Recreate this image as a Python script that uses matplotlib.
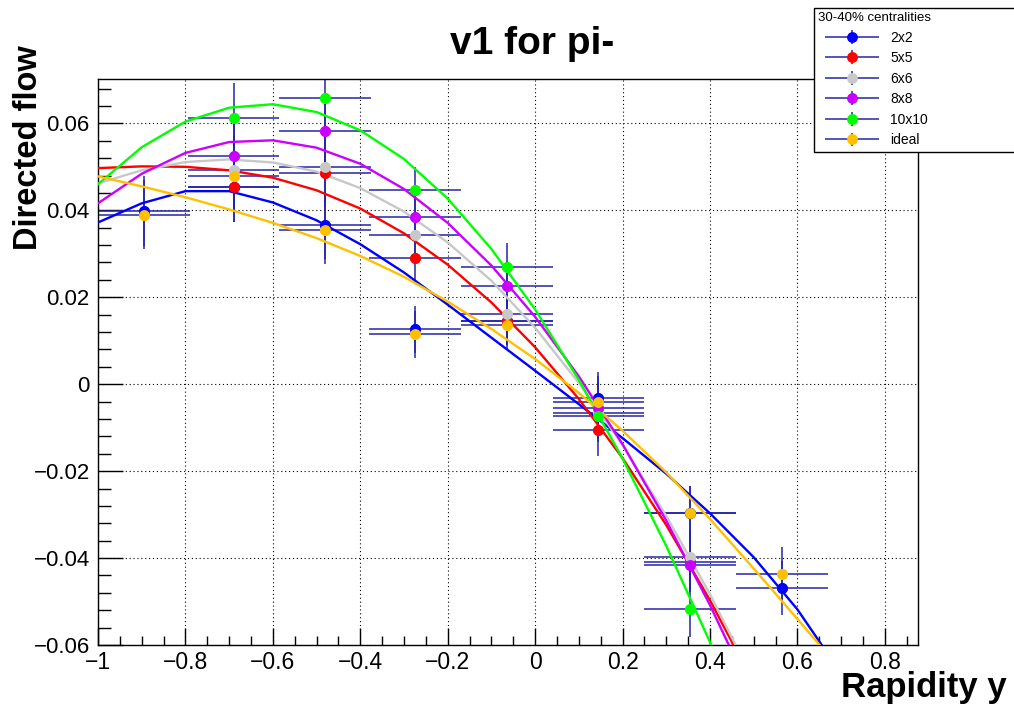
import numpy as np
import matplotlib.pyplot as plt
from matplotlib.legend_handler import HandlerErrorbar
from matplotlib.ticker import MultipleLocator, FixedLocator

plt.rcParams['font.family'] = ['Liberation Sans', 'DejaVu Sans']

nan = np.nan

# rapidity bins (centres and half widths)
rapidity = [-0.895, -0.69, -0.48, -0.275, -0.065, 0.145, 0.355, 0.565]
rapidity_err = [0.105, 0.105, 0.105, 0.105, 0.105, 0.105, 0.105, 0.105]
v1_err = [0.008, 0.008, 0.0077, 0.0054, 0.0055, 0.006, 0.0063, 0.0063]

# measured v1 per detector granularity
v1_2x2 = [0.0398, 0.0453, 0.0366, 0.0126, 0.0145, -0.0032, -0.0297, -0.0469]
v1_5x5 = [nan, 0.0453, 0.0485, 0.0290, 0.0145, -0.0106, -0.0410, nan]
v1_6x6 = [nan, 0.0492, 0.0499, 0.0343, 0.0161, -0.0067, -0.0398, nan]
v1_8x8 = [nan, 0.0524, 0.0582, 0.0384, 0.0225, -0.0055, -0.0416, nan]
v1_10x10 = [nan, 0.0612, 0.0658, 0.0446, 0.0269, -0.0074, -0.0518, nan]
v1_ideal = [0.0390, 0.0478, 0.0354, 0.0115, 0.0136, -0.0041, -0.0297, -0.0437]

# fitted curves, sampled every 0.1 in rapidity starting at -1
fit_x = [-1.0, -0.9, -0.8, -0.7, -0.6, -0.5, -0.4, -0.3, -0.2, -0.1,
         0.0, 0.1, 0.2, 0.3, 0.4, 0.5, 0.6, 0.7]
fit_2x2 = [0.0372, 0.0416, 0.0444, 0.0444, 0.0418, 0.0377, 0.0322, 0.0257, 0.0183,
           0.0107, 0.0031, -0.0046, -0.0124, -0.0206, -0.0297, -0.0398, -0.0518, -0.0665]
fit_5x5 = [0.0497, 0.0501, 0.0500, 0.0492, 0.0475, 0.0446, 0.0404, 0.0347, 0.0275,
           0.0188, 0.0085, -0.0034, -0.0170, -0.0324, -0.0497, -0.0688]
fit_6x6 = [0.0462, 0.0492, 0.0511, 0.0517, 0.0510, 0.0489, 0.0451, 0.0397, 0.0326,
           0.0238, 0.0130, 0.0003, -0.0140, -0.0303, -0.0483, -0.0683]
fit_8x8 = [0.0416, 0.0484, 0.0532, 0.0557, 0.0561, 0.0544, 0.0507, 0.0449, 0.0371,
           0.0273, 0.0155, 0.0018, -0.0138, -0.0314, -0.0508, -0.0721]
fit_10x10 = [0.0460, 0.0545, 0.0604, 0.0636, 0.0644, 0.0626, 0.0584, 0.0518, 0.0427,
             0.0311, 0.0172, 0.0010, -0.0171, -0.0372, -0.0593, -0.0830]
fit_ideal = [0.0478, 0.0455, 0.0430, 0.0402, 0.0371, 0.0336, 0.0295, 0.0247, 0.0190,
             0.0127, 0.0058, -0.0020, -0.0107, -0.0203, -0.0310, -0.0424, -0.0540, -0.0658]

labels = ["2x2", "5x5", "6x6", "8x8", "10x10", "ideal"]
colors = ["#0000ff", "#ff0000", "#c8c8c8", "#cc00ff", "#00ff00", "#ffc000"]
points = [v1_2x2, v1_5x5, v1_6x6, v1_8x8, v1_10x10, v1_ideal]
fits = [fit_2x2, fit_5x5, fit_6x6, fit_8x8, fit_10x10, fit_ideal]

bar_color = "#2424a8"

fig = plt.figure(figsize=(10.14, 7.04), dpi=100)
ax = fig.add_axes([98/1014, 59/704, 820/1014, 566/704])

handles = []
for i in range(len(labels)):
    h = ax.errorbar(rapidity, points[i], xerr=rapidity_err, yerr=v1_err, fmt="o",
                    ms=6.8, mfc=colors[i], mec=colors[i], ecolor=bar_color,
                    elinewidth=1.1, capsize=0, zorder=2)
    handles.append(h)
for i in range(len(labels)):
    ax.plot(fit_x[:len(fits[i])], fits[i], color=colors[i], lw=1.7, zorder=3)
for i in range(len(labels)):
    ax.plot(rapidity, points[i], "o", ms=6.8, color=colors[i], zorder=4)

ax.set_xlim(-1, 0.876)
ax.set_ylim(-0.06, 0.0702)

ax.xaxis.set_major_locator(FixedLocator([-1, -0.8, -0.6, -0.4, -0.2, 0, 0.2, 0.4, 0.6, 0.8]))
ax.set_xticklabels(["\u22121", "\u22120.8", "\u22120.6", "\u22120.4", "\u22120.2",
                    "0", "0.2", "0.4", "0.6", "0.8"])
ax.xaxis.set_minor_locator(MultipleLocator(0.05))
ax.yaxis.set_major_locator(FixedLocator([-0.06, -0.04, -0.02, 0, 0.02, 0.04, 0.06]))
ax.set_yticklabels(["\u22120.06", "\u22120.04", "\u22120.02", "0", "0.02", "0.04", "0.06"])
ax.yaxis.set_minor_locator(MultipleLocator(0.004))

ax.tick_params(axis="x", which="major", direction="in", length=12.5, width=1, labelsize=16.5, pad=4)
ax.tick_params(axis="x", which="minor", direction="in", length=6.2, width=1)
ax.tick_params(axis="y", which="major", direction="in", length=18, width=1, labelsize=16, pad=6)
ax.tick_params(axis="y", which="minor", direction="in", length=9, width=1)
ax.grid(True, which="major", color="black", lw=0.8, ls=(0, (1, 2.5)))
for s in ax.spines.values():
    s.set_linewidth(1)

fig.text(0.525, 1 - 44/704, "v1 for pi-", ha="center", va="center",
         fontsize=28, fontweight="bold")
fig.text(1007/1014, 1 - 688/704, "Rapidity y", ha="right", va="center",
         fontsize=25, fontweight="bold")
fig.text(29/1014, 1 - 148/704, "Directed flow", ha="center", va="center",
         rotation=90, fontsize=23.5, fontweight="bold")

leg = fig.legend(handles, labels, loc="upper left",
                 bbox_to_anchor=(814/1014, 1 - 8/704, 260/1014, 0.0),
                 mode="expand", title="30-40% centralities", alignment="left",
                 fontsize=10, title_fontsize=9.5, frameon=True, fancybox=False,
                 edgecolor="black", framealpha=1, borderaxespad=0, borderpad=0.3,
                 handlelength=4.9, handletextpad=0.3, labelspacing=0.47,
                 handler_map={type(handles[0]): HandlerErrorbar(xerr_size=1.95, yerr_size=0.5)})
leg.get_frame().set_linewidth(1)

fig.savefig("out.png", dpi=100)
